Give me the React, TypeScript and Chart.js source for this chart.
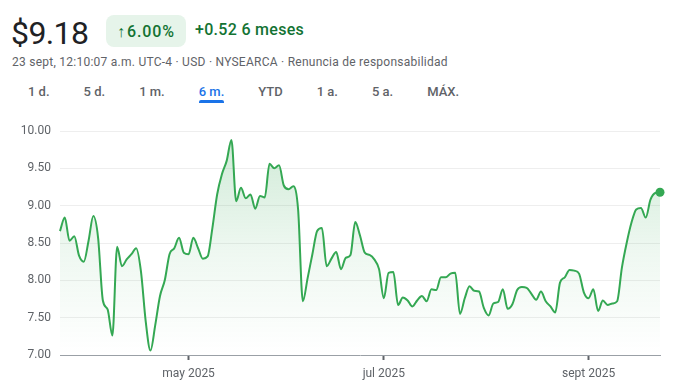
import React, { useEffect, useRef } from "react";
import { Chart, registerables } from "chart.js";

Chart.register(...registerables);

// Daily closing prices (trading days, 24 mar 2025 – 22 sept 2025)
const prices: number[] = [
  8.66, 8.84, 8.53, 8.59, 8.33, 8.25, 8.53, 8.86, 8.57, 7.73,
  7.61, 7.26, 8.45, 8.19, 8.28, 8.35, 8.43, 8.12, 7.45, 7.06,
  7.40, 7.79, 8.00, 8.35, 8.43, 8.57, 8.37, 8.35, 8.57, 8.43,
  8.29, 8.32, 8.70, 9.15, 9.42, 9.60, 9.88, 9.06, 9.24, 9.10,
  9.15, 8.96, 9.13, 9.11, 9.56, 9.50, 9.54, 9.27, 9.22, 9.26,
  8.95, 7.72, 8.03, 8.35, 8.66, 8.70, 8.19, 8.29, 8.38, 8.15,
  8.30, 8.34, 8.78, 8.60, 8.37, 8.34, 8.28, 8.15, 7.76, 8.10,
  8.11, 7.67, 7.77, 7.73, 7.65, 7.73, 7.79, 7.72, 7.88, 7.87,
  8.04, 8.04, 8.09, 8.10, 7.55, 7.76, 7.92, 7.86, 7.85, 7.63,
  7.53, 7.69, 7.71, 7.88, 7.62, 7.68, 7.87, 7.91, 7.90, 7.82,
  7.74, 7.85, 7.72, 7.65, 7.57, 7.97, 8.04, 8.14, 8.13, 8.09,
  7.84, 7.76, 7.88, 7.59, 7.73, 7.67, 7.69, 7.72, 8.17, 8.50,
  8.77, 8.95, 8.97, 8.84, 9.08, 9.17, 9.18,
];

// x-axis labels sit at the first trading day of each month shown
const monthTickIndices = [27, 68, 111];
const monthTickLabels = ["may 2025", "jul 2025", "sept 2025"];

const yTickValues = [7, 7.5, 8, 8.5, 9, 9.5, 10];

const tabs = ["1 d.", "5 d.", "1 m.", "6 m.", "YTD", "1 a.", "5 a.", "MÁX."];
const activeTab = "6 m.";

const GREEN = "#34a853";
const TEXT_GREEN = "#137333";
const GREY = "#5f6368";
const FONT = "Roboto, Arial, sans-serif";

function PriceChart() {
  const ref = useRef<HTMLCanvasElement>(null);

  useEffect(() => {
    const canvas = ref.current;
    if (!canvas) return;
    const chart = new Chart(canvas, {
      type: "line",
      data: {
        datasets: [
          {
            data: prices.map((v, i) => ({ x: i, y: v })),
            borderColor: GREEN,
            borderWidth: 2,
            fill: "start",
            backgroundColor: (ctx: any) => {
              const c = ctx.chart;
              const area = c.chartArea;
              if (!area) return "rgba(52,168,83,0.1)";
              const g = c.ctx.createLinearGradient(0, area.top, 0, area.bottom);
              g.addColorStop(0, "rgba(52,168,83,0.24)");
              g.addColorStop(0.55, "rgba(52,168,83,0.08)");
              g.addColorStop(1, "rgba(52,168,83,0)");
              return g;
            },
            pointRadius: (ctx: any) => (ctx.dataIndex === prices.length - 1 ? 4.5 : 0),
            pointBackgroundColor: GREEN,
            pointBorderWidth: 0,
            pointHoverRadius: 0,
            cubicInterpolationMode: "monotone",
            clip: false as any,
          },
        ],
      },
      options: {
        responsive: false,
        animation: false,
        devicePixelRatio: 1,
        events: [],
        layout: { padding: { top: 21, right: 27, bottom: 0, left: 0 } },
        plugins: { legend: { display: false }, tooltip: { enabled: false } },
        scales: {
          x: {
            type: "linear",
            min: 0,
            max: prices.length - 1,
            afterBuildTicks: (s: any) => {
              s.ticks = monthTickIndices.map((v) => ({ value: v }));
            },
            afterFit: (s: any) => {
              s.height = 36;
            },
            grid: {
              drawOnChartArea: false,
              drawTicks: true,
              tickLength: 5,
              tickColor: GREY,
              tickWidth: 2,
            },
            border: { display: true, color: "#9aa0a6", width: 1 },
            ticks: {
              padding: 7,
              color: GREY,
              font: { family: FONT, size: 12 },
              maxRotation: 0,
              autoSkip: false,
              callback: (v: any) => {
                const k = monthTickIndices.indexOf(Number(v));
                return k >= 0 ? monthTickLabels[k] : "";
              },
            },
          },
          y: {
            min: 7,
            max: 10,
            afterBuildTicks: (s: any) => {
              s.ticks = yTickValues.map((v) => ({ value: v }));
            },
            afterFit: (s: any) => {
              s.width = 60;
            },
            grid: {
              drawTicks: false,
              color: (ctx: any) =>
                ctx.tick && ctx.tick.value === 7 ? "rgba(0,0,0,0)" : "#eeeeee",
              lineWidth: 1,
            },
            border: { display: false },
            ticks: {
              padding: 9,
              color: GREY,
              font: { family: FONT, size: 12 },
              callback: (v: any) => Number(v).toFixed(2),
            },
          },
        },
      } as any,
    });
    return () => chart.destroy();
  }, []);

  return (
    <canvas
      ref={ref}
      width={687}
      height={281}
      style={{ position: "absolute", left: 0, top: 110, width: 687, height: 281 }}
    />
  );
}

export default function App() {
  return (
    <div
      style={{
        position: "fixed",
        left: 0,
        top: 0,
        width: 687,
        height: 391,
        background: "#ffffff",
        fontFamily: FONT,
        overflow: "hidden",
      }}
    >
      <div
        style={{
          position: "absolute",
          left: 11,
          top: 17,
          fontSize: 32,
          lineHeight: 1,
          letterSpacing: -0.6,
          color: "#202124",
        }}
      >
        $9.18
      </div>
      <div
        style={{
          position: "absolute",
          left: 106,
          top: 15,
          width: 80,
          height: 32,
          borderRadius: 8,
          background: "#e6f4ea",
          display: "flex",
          alignItems: "center",
          justifyContent: "center",
          color: TEXT_GREEN,
          fontSize: 16,
          fontWeight: 500,
          whiteSpace: "nowrap",
        }}
      >
        <span style={{ fontWeight: 400, marginRight: 2 }}>↑</span>
        <span style={{ letterSpacing: 0.9 }}>6.00%</span>
      </div>
      <div
        style={{
          position: "absolute",
          left: 195,
          top: 22,
          fontSize: 16,
          lineHeight: 1,
          fontWeight: 500,
          letterSpacing: 0.3,
          color: TEXT_GREEN,
          whiteSpace: "nowrap",
        }}
      >
        +0.52 6 meses
      </div>
      <div
        style={{
          position: "absolute",
          left: 12,
          top: 56,
          fontSize: 12,
          lineHeight: 1,
          letterSpacing: 0.25,
          color: GREY,
          whiteSpace: "nowrap",
        }}
      >
        23 sept, 12:10:07 a.m. UTC-4 · USD · NYSEARCA · Renuncia de responsabilidad
      </div>
      <div
        style={{
          position: "absolute",
          left: 28,
          top: 85,
          display: "flex",
          gap: 34,
          fontSize: 13,
          lineHeight: 1,
          fontWeight: 500,
          whiteSpace: "nowrap",
        }}
      >
        {tabs.map((t) => (
          <div
            key={t}
            style={{
              position: "relative",
              color: t === activeTab ? "#1a73e8" : GREY,
            }}
          >
            {t}
            {t === activeTab && (
              <div
                style={{
                  position: "absolute",
                  left: 0,
                  right: 0,
                  top: 15,
                  height: 3,
                  borderRadius: "2px 2px 0 0",
                  background: "#1a73e8",
                }}
              />
            )}
          </div>
        ))}
      </div>
      <PriceChart />
    </div>
  );
}
